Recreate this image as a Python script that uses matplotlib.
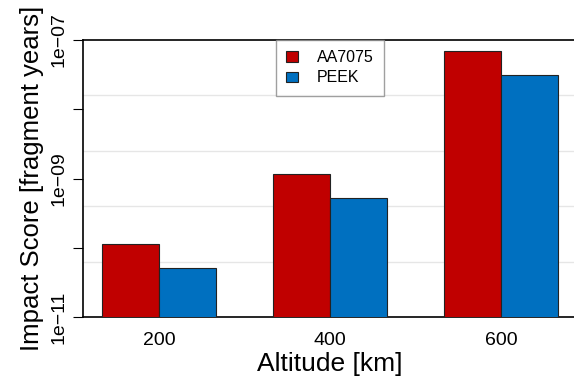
import numpy as np
import matplotlib.pyplot as plt
from matplotlib.ticker import FixedLocator, NullLocator

plt.rcParams['font.family'] = ['Liberation Sans', 'DejaVu Sans']

# --- données ---
altitudes = ["200", "400", "600"]
aa7075 = [1.12e-10, 1.16e-9, 7.0e-8]
peek = [5.1e-11, 5.2e-10, 3.15e-8]
noms = ["AA7075", "PEEK"]
couleurs = ["#C00000", "#0070C0"]

fig = plt.figure(figsize=(5.74, 3.88), dpi=100)
ax = fig.add_axes([83 / 574, 71 / 388, 494 / 574, 277 / 388])

x = np.arange(len(altitudes))
w = 1 / 3
ax.bar(x - w / 2, aa7075, w, color=couleurs[0], edgecolor="#222222", linewidth=0.8,
       label=noms[0], zorder=3)
ax.bar(x + w / 2, peek, w, color=couleurs[1], edgecolor="#222222", linewidth=0.8,
       label=noms[1], zorder=3)

ax.set_yscale("log")
ax.set_ylim(1e-11, 1e-7)
ax.set_xlim(-1 / 3 - 19 / 171, 2 + 1 / 3 + 19 / 171)

# grille claire (5 intervalles égaux)
for g in np.linspace(-7, -11, 6)[1:-1]:
    ax.axhline(10 ** g, color="#e6e6e6", linewidth=1, zorder=1)

ax.yaxis.set_major_locator(FixedLocator([1e-11, 1e-10, 1e-9, 1e-8, 1e-7]))
ax.yaxis.set_minor_locator(NullLocator())
ax.set_yticklabels(["1e\u221211", "", "1e\u221209", "", "1e\u221207"],
                   rotation=90, va="center", fontsize=14)
ax.tick_params(axis="y", length=7, width=0.8, pad=4)

ax.set_xticks(x)
ax.set_xticklabels(altitudes, fontsize=14)
ax.tick_params(axis="x", length=0, pad=11)

for s in ["left", "bottom", "top"]:
    ax.spines[s].set_linewidth(1.2)
ax.spines["right"].set_visible(False)

ax.set_xlabel("Altitude [km]", fontsize=19, labelpad=2)
ax.set_ylabel("Impact Score [fragment years]", fontsize=18.5, labelpad=5)

leg = ax.legend(loc="upper center", fontsize=11.5, frameon=True, fancybox=False,
                borderaxespad=0, handlelength=0.75, handleheight=0.65,
                borderpad=0.65, labelspacing=0.32, handletextpad=1.2)
leg.get_frame().set_edgecolor("#888888")
leg.get_frame().set_linewidth(1.0)

fig.savefig("out.png", dpi=100)
